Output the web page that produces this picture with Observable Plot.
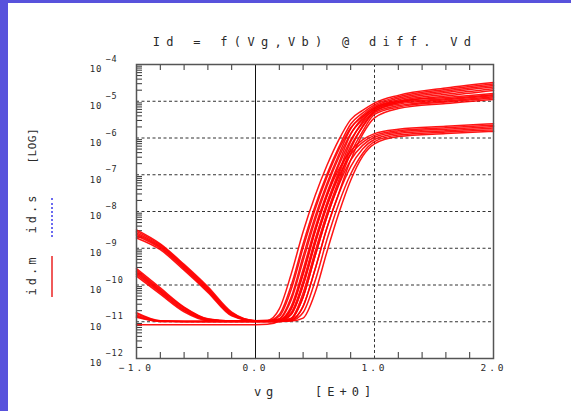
<!DOCTYPE html>
<html><head><meta charset="utf-8">
<script src="https://cdn.jsdelivr.net/npm/d3@7"></script>
<script src="https://cdn.jsdelivr.net/npm/@observablehq/plot@0.6"></script>
<style>
body{margin:0;background:#fff;}
#wrap{position:relative;width:571px;height:411px;overflow:hidden;background:#fff;}
#wrap svg{position:absolute;left:0;top:0;}
.stripe{position:absolute;background:#5852dc;}
.swatch{position:absolute;}
</style></head><body>
<div id="wrap"></div>
<script>
// Gate voltage grid (V)
const vg = [-1, -0.8, -0.6, -0.4, -0.2, 0, 0.1, 0.2, 0.3, 0.4, 0.5, 0.6, 0.7, 0.8, 0.9, 1.0, 1.2, 1.6, 2.0];

// log10(Id [A]) — highest Vd, six Vb values
const logIdHighVd = [
 [-8.50,-8.88,-9.44,-10.05,-10.74,-10.97,-10.96,-10.65,-9.70,-8.55,-7.58,-6.75,-6.05,-5.50,-5.25,-5.05,-4.84,-4.64,-4.49],
 [-8.54,-8.91,-9.47,-10.08,-10.76,-10.97,-10.97,-10.80,-10.01,-8.88,-7.86,-6.99,-6.25,-5.62,-5.32,-5.10,-4.88,-4.68,-4.53],
 [-8.58,-8.94,-9.50,-10.11,-10.78,-10.98,-10.98,-10.92,-10.33,-9.22,-8.15,-7.24,-6.45,-5.75,-5.38,-5.14,-4.92,-4.72,-4.57],
 [-8.62,-8.97,-9.53,-10.14,-10.80,-10.98,-10.98,-10.95,-10.58,-9.58,-8.45,-7.50,-6.68,-5.90,-5.45,-5.18,-4.96,-4.76,-4.61],
 [-8.66,-9.00,-9.56,-10.17,-10.82,-10.98,-10.98,-10.96,-10.75,-9.90,-8.77,-7.76,-6.92,-6.10,-5.55,-5.22,-5.00,-4.81,-4.66],
 [-8.72,-9.04,-9.60,-10.20,-10.84,-10.98,-10.98,-10.97,-10.90,-10.22,-9.10,-8.05,-7.15,-6.30,-5.68,-5.28,-5.04,-4.86,-4.71]
];
// log10(Id) — medium Vd
const logIdMidVd = [
 [-9.55,-10.08,-10.60,-10.92,-10.98,-10.98,-10.98,-10.85,-10.12,-8.99,-7.95,-7.07,-6.32,-5.72,-5.42,-5.18,-5.00,-4.90,-4.79],
 [-9.59,-10.12,-10.62,-10.93,-10.98,-10.98,-10.98,-10.93,-10.41,-9.34,-8.25,-7.32,-6.53,-5.88,-5.50,-5.23,-5.04,-4.93,-4.82],
 [-9.63,-10.15,-10.65,-10.94,-10.98,-10.98,-10.98,-10.96,-10.65,-9.70,-8.55,-7.58,-6.75,-6.05,-5.60,-5.27,-5.08,-4.96,-4.85],
 [-9.67,-10.18,-10.68,-10.95,-10.98,-10.98,-10.98,-10.97,-10.80,-10.01,-8.88,-7.86,-6.99,-6.22,-5.70,-5.31,-5.12,-4.99,-4.88],
 [-9.71,-10.21,-10.70,-10.96,-10.98,-10.98,-10.98,-10.98,-10.92,-10.33,-9.22,-8.15,-7.24,-6.42,-5.82,-5.36,-5.16,-5.02,-4.91],
 [-9.76,-10.25,-10.73,-10.97,-10.98,-10.98,-10.98,-10.98,-10.95,-10.58,-9.58,-8.45,-7.50,-6.60,-5.90,-5.45,-5.20,-5.06,-4.95]
];
// log10(Id) — low Vd
const logIdLowVd = [
 [-11.08,-11.08,-11.08,-11.08,-11.08,-11.08,-11.07,-10.98,-10.65,-9.70,-8.55,-7.58,-6.85,-6.35,-6.05,-5.88,-5.76,-5.68,-5.61],
 [-10.75,-10.97,-10.99,-10.99,-10.99,-10.99,-10.99,-10.98,-10.80,-10.01,-8.88,-7.86,-7.05,-6.45,-6.12,-5.93,-5.80,-5.72,-5.65],
 [-10.78,-10.98,-10.99,-10.99,-10.99,-10.99,-10.99,-10.99,-10.92,-10.33,-9.22,-8.15,-7.28,-6.60,-6.20,-5.98,-5.84,-5.76,-5.69],
 [-10.82,-10.98,-10.99,-10.99,-10.99,-10.99,-10.99,-10.99,-10.95,-10.58,-9.58,-8.45,-7.52,-6.78,-6.30,-6.04,-5.88,-5.80,-5.73],
 [-10.85,-10.99,-10.99,-10.99,-10.99,-10.99,-10.99,-10.99,-10.97,-10.75,-9.90,-8.77,-7.78,-6.98,-6.42,-6.10,-5.92,-5.84,-5.78],
 [-10.88,-10.99,-10.99,-10.99,-10.99,-10.99,-10.99,-10.99,-10.98,-10.90,-10.22,-9.10,-8.05,-7.15,-6.50,-6.16,-5.96,-5.88,-5.82]
];

// Axis ticks and labels
const xTicks = [-1, 0, 1, 2];
const xTickLabels = ["−1.0", "0.0", "1.0", "2.0"];
const xMinorTicks = [-0.8, -0.6, -0.4, -0.2, 0.2, 0.4, 0.6, 0.8, 1.2, 1.4, 1.6, 1.8];
const yTickExp = [-4, -5, -6, -7, -8, -9, -10, -11, -12];
const yGridExp = [-5, -6, -7, -8, -9, -10, -11];
const yMinorMult = [2, 3, 4, 5, 6, 7, 8, 9];
const titleText = "Id = f(Vg,Vb) @ diff. Vd";
const xTitle = "vg   [E+0]";
const legendLog = "[LOG]";
const legendSim = "id.s";
const legendMeas = "id.m";

const groups = [["H", logIdHighVd], ["M", logIdMidVd], ["L", logIdLowVd]];
const rows = groups.flatMap(([g, arr]) => arr.flatMap((vals, i) =>
  vals.map((v, j) => ({vg: vg[j], id: 10 ** v, curve: g + i}))));

const yMinor = yTickExp.slice(1).flatMap(e => yMinorMult.map(k => k * 10 ** e));

const W = 571, H = 411, mL = 136, mR = 78, mT = 64, mB = 53;
const fw = W - mL - mR, fh = H - mT - mB;
const ink = "#2a2a2a";
const font = "DejaVu Sans Mono";

// rotated legend labels, anchored at their lower end
const legendMark = (txt, dy, size, tag) => Plot.text([txt], {text: d => d, frameAnchor: "left", rotate: -90, textAnchor: "start", dx: -104, dy, fontSize: size, fill: ink, ariaDescription: tag});

const chart = Plot.plot({
  width: W, height: H,
  marginLeft: mL, marginRight: mR, marginTop: mT, marginBottom: mB,
  style: {background: "transparent", fontFamily: font, overflow: "visible"},
  x: {domain: [-1, 2], axis: null},
  y: {type: "log", domain: [1e-12, 1e-4], axis: null},
  marks: [
    // grid
    Plot.ruleY(yGridExp, {y: e => 10 ** e, stroke: "#333", strokeWidth: 1, strokeDasharray: "3,2.5"}),
    Plot.ruleX([1], {stroke: "#333", strokeWidth: 1, strokeDasharray: "3,2.5"}),
    Plot.ruleX([0], {stroke: "#111", strokeWidth: 1}),
    // minor ticks
    Plot.ruleY(yMinor, {y: d => d, insetRight: fw - 6, stroke: "#333", strokeWidth: 1}),
    Plot.ruleX(xMinorTicks, {insetTop: fh - 6, stroke: "#333", strokeWidth: 1}),
    Plot.ruleX(xMinorTicks, {insetBottom: fh - 6, stroke: "#333", strokeWidth: 1}),
    // curves
    Plot.line(rows, {x: "vg", y: "id", z: "curve", stroke: "#ff0000", strokeWidth: 1.5, strokeOpacity: 0.92, curve: "monotone-x"}),
    Plot.frame({stroke: "#555", strokeWidth: 1.5}),
    // y tick labels
    Plot.text(yTickExp, {y: e => 10 ** e, text: () => "10", frameAnchor: "left", dx: -34, dy: 5, textAnchor: "end", fontSize: 9, fill: ink, ariaDescription: "ylab"}),
    Plot.text(yTickExp, {y: e => 10 ** e, text: e => "−" + (-e), frameAnchor: "left", dx: -31, dy: -5, textAnchor: "start", fontSize: 8.5, fill: ink, ariaDescription: "yexp"}),
    // x tick labels
    Plot.text(xTicks, {x: d => d, text: (d, i) => xTickLabels[i], frameAnchor: "bottom", dy: 12, fontSize: 9.5, fill: ink, ariaDescription: "xlab"}),
    // titles
    Plot.text([titleText], {text: d => d, frameAnchor: "top", dy: -27, fontSize: 12, fill: ink, ariaDescription: "title"}),
    Plot.text([xTitle], {text: d => d, frameAnchor: "bottom", dy: 37, fontSize: 12, fill: ink, ariaDescription: "xtitle"}),
    legendMark(legendLog, -48, 11, "legendlog"),
    legendMark(legendSim, 22, 12, "legend"),
    legendMark(legendMeas, 84, 12, "legend")
  ]
});

// letter spacing to imitate the plotter font
const sp = {ylab: "1px", yexp: "1px", xlab: "3px", title: "6.3px", xtitle: "5px", legend: "3px", legendlog: "0.5px"};
for (const [k, v] of Object.entries(sp)) {
  chart.querySelectorAll(`g[aria-description="${k}"] text`).forEach(t => t.style.letterSpacing = v);
}

const wrap = document.getElementById("wrap");
wrap.appendChild(chart);
function addDiv(cls, css) { const d = document.createElement("div"); d.className = cls; Object.assign(d.style, css); wrap.appendChild(d); }
addDiv("stripe", {left: "0px", top: "0px", width: "8px", height: "411px"});
addDiv("stripe", {left: "0px", top: "0px", width: "571px", height: "3px"});
addDiv("swatch", {left: "51px", top: "198px", width: "0px", height: "39px", borderLeft: "2px dotted #6a6af0"});
addDiv("swatch", {left: "51px", top: "256px", width: "1.5px", height: "41px", background: "#f05a5a"});
</script>
</body></html>
